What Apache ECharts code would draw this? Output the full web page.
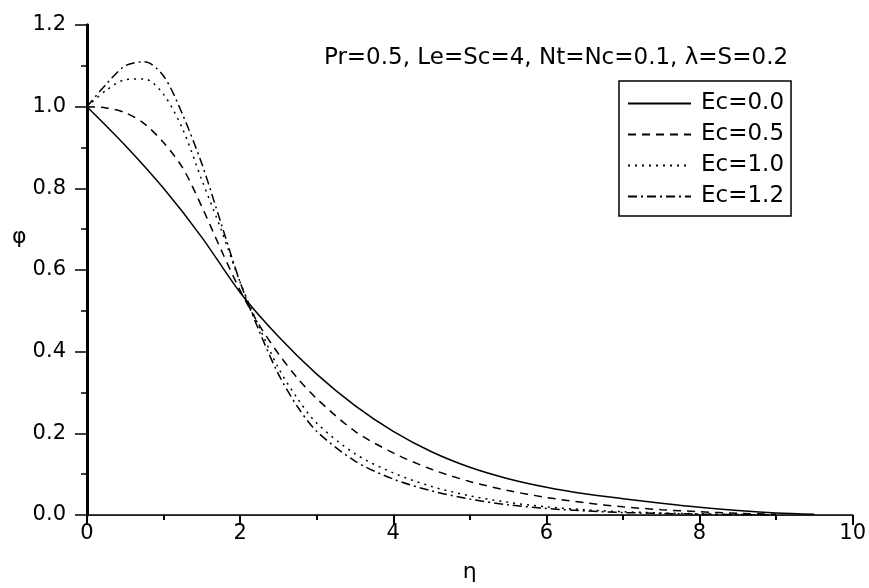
<!DOCTYPE html>
<html>
<head>
<meta charset="utf-8">
<script src="https://cdn.jsdelivr.net/npm/echarts@6/dist/echarts.min.js"></script>
<style>html,body{margin:0;padding:0;background:#fff}#c{width:869px;height:588px}</style>
</head>
<body>
<div id="c"></div>
<script>
var etaSolid = [0,0.5,1,1.5,2,2.5,3,3.5,4,4.5,5,5.5,6,6.5,7,7.5,8,8.5,9,9.5];
var phiEc00 = [1.0,0.905,0.80,0.68,0.545,0.437,0.345,0.268,0.205,0.155,0.117,0.089,0.068,0.052,0.040,0.029,0.019,0.011,0.005,0.002];
var eta = [0,0.25,0.5,0.75,1,1.25,1.5,1.75,2,2.25,2.5,2.75,3,3.5,4,4.5,5,5.5,6,6.5,7,7.5,8,8.5,9];
var phiEc05 = [1.0,0.997,0.985,0.958,0.912,0.85,0.755,0.65,0.55,0.465,0.395,0.335,0.285,0.205,0.152,0.112,0.082,0.06,0.043,0.03,0.02,0.013,0.008,0.004,0.002];
var phiEc10 = [1.0,1.04,1.066,1.068,1.03,0.945,0.82,0.70,0.57,0.46,0.36,0.285,0.225,0.15,0.103,0.07,0.047,0.031,0.02,0.013,0.008,0.005,0.003,0.001,0.0];
var phiEc12 = [1.0,1.055,1.10,1.11,1.075,0.98,0.86,0.715,0.57,0.45,0.345,0.265,0.205,0.132,0.088,0.059,0.039,0.025,0.016,0.01,0.006,0.004,0.002,0.001,0.0];
var seriesNames = ['Ec=0.0','Ec=0.5','Ec=1.0','Ec=1.2'];
var titleText = 'Pr=0.5, Le=Sc=4, Nt=Nc=0.1, \u03bb=S=0.2';
var xName = '\u03b7';
var yName = '\u03c6';

function pairs(xs, ys){ return xs.map(function(x,i){ return [x, ys[i]]; }); }
var FONT = 'DejaVu Sans';
var chart = echarts.init(document.getElementById('c'), null, {renderer:'canvas'});
function mk(name, data, type){
  return {name:name, type:'line', data:data, smooth:0.3, symbol:'none', showSymbol:false,
    lineStyle:{color:'#000', width:1.5, type:type}, itemStyle:{color:'#000'}, z:3};
}
chart.setOption({
  animation:false,
  backgroundColor:'#fff',
  title:{text:titleText, left:551, textAlign:'center', top:42, textStyle:{fontFamily:FONT, fontSize:23, fontWeight:'normal', color:'#000'}},
  legend:{
    orient:'vertical', left:619, top:81, padding:[11,7,8,8], itemGap:8,
    itemWidth:63, itemHeight:20, borderColor:'#000', borderWidth:1.5, borderRadius:0,
    itemStyle:{color:'rgba(0,0,0,0)', borderWidth:0},
    textStyle:{fontFamily:FONT, fontSize:23, lineHeight:20, color:'#000', padding:[0,0,0,5]},
    data:seriesNames
  },
  grid:{left:87, right:16, top:25, bottom:64, show:false},
  xAxis:[{
    type:'value', min:0, max:10, interval:2, position:'bottom',
    name:xName, nameLocation:'middle', nameGap:46,
    nameTextStyle:{fontFamily:FONT, fontSize:22, color:'#000'},
    axisLine:{show:true, onZero:false, lineStyle:{color:'#000', width:1.5}},
    axisTick:{show:true, inside:false, length:10, lineStyle:{color:'#000', width:2}},
    minorTick:{show:true, splitNumber:2, length:5, lineStyle:{color:'#000', width:2}},
    axisLabel:{margin:8, fontFamily:FONT, fontSize:21, color:'#000'},
    splitLine:{show:false}
  },{
    type:'value', min:0, max:10, position:'top',
    axisLine:{show:true, lineStyle:{color:'#222', width:1}},
    axisTick:{show:false}, axisLabel:{show:false}, splitLine:{show:false}
  }],
  yAxis:[{
    type:'value', min:0, max:1.2, interval:0.2, position:'left',
    axisLine:{show:true, onZero:false, lineStyle:{color:'#000', width:3}},
    axisTick:{show:true, inside:false, length:12, lineStyle:{color:'#000', width:1.5}},
    minorTick:{show:true, splitNumber:2, length:6, lineStyle:{color:'#000', width:1.5}},
    axisLabel:{margin:21, fontFamily:FONT, fontSize:21, color:'#000', formatter:function(v){return v.toFixed(1);}},
    splitLine:{show:false}
  },{
    type:'value', min:0, max:1.2, position:'right',
    axisLine:{show:true, lineStyle:{color:'#000', width:3}},
    axisTick:{show:false}, axisLabel:{show:false}, splitLine:{show:false}
  }],
  graphic:[{type:'text', left:12, top:226, style:{text:yName, font:'22px "DejaVu Sans"', fill:'#000'}}],
  series:[
    mk(seriesNames[0], pairs(etaSolid, phiEc00), 'solid'),
    mk(seriesNames[1], pairs(eta, phiEc05), [8,6]),
    mk(seriesNames[2], pairs(eta, phiEc10), [2,5]),
    mk(seriesNames[3], pairs(eta, phiEc12), [9,4,2,4])
  ]
});
</script>
</body>
</html>
